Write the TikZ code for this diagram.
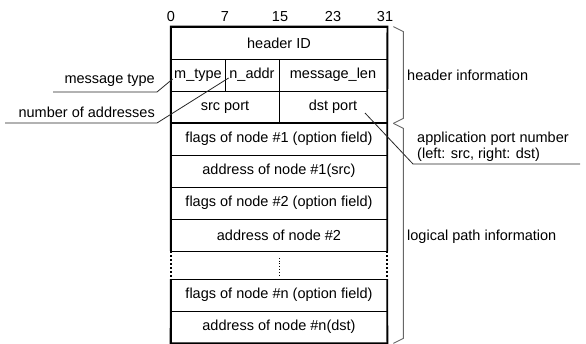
\documentclass[tikz,border=0pt]{standalone}
\usepackage{fontspec}
\setmainfont{Liberation Sans}
\usetikzlibrary{positioning}

\begin{document}
\begin{tikzpicture}[x=1pt, y=-1pt,
  every node/.style={font=\fontsize{14.5}{16}\selectfont, inner sep=0pt},
  field/.style={draw, rectangle, line width=0.8pt, minimum height=32pt},
  border/.style={line width=1.8pt},
  leader/.style={line width=0.8pt, black!85},
  brace/.style={line width=0.9pt, black!60}]

\useasboundingbox (0,0) rectangle (586,344);

% bit positions
\node (b0) at (171,17) {0};
\node (b7) at (225,17) {7};
\node (b15) at (280,17) {15};
\node (b23) at (333,17) {23};
\node (b31) at (385,17) {31};

% header
\node[field, minimum width=216pt] (hid) at (279,43) {header ID};
\node[field, minimum width=54pt] (mtype) at (198,75) {m\_type};
\node[field, minimum width=54pt] (naddr) at (252,75) {n\_addr};
\node[field, minimum width=108pt] (mlen) at (333,75) {message\_len};
\node[field, minimum width=108pt] (srcp) at (225,107) {src port};
\node[field, minimum width=108pt] (dstp) at (333,107) {dst port};

% logical path
\node[field, minimum width=216pt] (flags1) at (279,139) {flags of node \#1 (option field)};
\node[field, minimum width=216pt] (addr1) at (279,171) {address of node \#1(src)};
\node[field, minimum width=216pt] (flags2) at (279,203) {flags of node \#2 (option field)};
\node[field, minimum width=216pt] (addr2) at (279,235) {address of node \#2};
\node[minimum width=216pt, minimum height=28pt] (gap) at (279,265) {};
\node[field, minimum width=216pt] (flagsn) at (279,295) {flags of node \#n (option field)};
\node[field, minimum width=216pt] (addrn) at (279,327) {address of node \#n(dst)};
\draw[line width=0.8pt, dotted] ([shift={(0,7)}]gap.north) -- ([shift={(0,-4)}]gap.south);

% outer border
\draw[border] (gap.north west) |- (hid.north east) -- (gap.north east);
\draw[border] (gap.south west) -- (addrn.south west) -- (addrn.south east) -- (gap.south east);
\draw[border, dash pattern=on 2pt off 2pt] (gap.north west) -- (gap.south west);
\draw[border, dash pattern=on 2pt off 2pt] (gap.north east) -- (gap.south east);
\draw[border] (srcp.south west) -- (dstp.south east);

% left labels
\node[anchor=east] (lmt) at (155,80) {message type};
\node[anchor=east] (lna) at (155,112) {number of addresses};
\coordinate (mt1) at (53,92);
\coordinate (mt2) at (157,92);
\coordinate (na1) at (5,123);
\coordinate (na2) at (157,123);
\draw[leader] (mt1) -- (mt2) -- ([shift={(2,4)}]mtype.west);
\draw[leader] (na1) -- (na2) -- ([shift={(4,3)}]naddr.west);

% braces
\draw[brace] ([xshift=6pt]hid.north east) -- ++(10,5) -- ([shift={(16,-5)}]dstp.south east) -- ([xshift=6pt]dstp.south east);
\draw[brace] ([xshift=6pt]dstp.south east) -- ++(10,5) -- ([shift={(16,-5)}]addrn.south east) -- ([xshift=6pt]addrn.south east);

% right labels
\node[anchor=west] (lhi) at (407,75) {header information};
\node[anchor=west, align=left] (lap) at (417,147) {application port number\\(left: src, right: dst)};
\node[anchor=west] (llp) at (407,237) {logical path information};
\coordinate (pt1) at (413,164);
\coordinate (pt2) at (580,164);
\draw[leader] ([shift={(32,6)}]dstp.center) -- (pt1) -- (pt2);

\end{tikzpicture}
\end{document}
